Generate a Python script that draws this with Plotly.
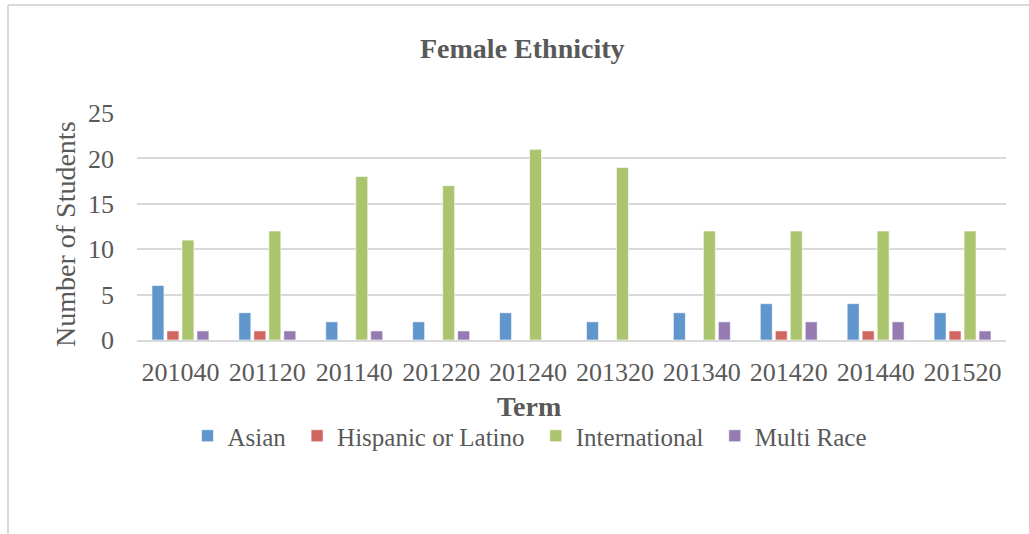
import plotly.graph_objects as go

terms = ["201040", "201120", "201140", "201220", "201240", "201320", "201340", "201420", "201440", "201520"]
asian = [6, 3, 2, 2, 3, 2, 3, 4, 4, 3]
hispanic = [1, 1, 0, 0, 0, 0, 0, 1, 1, 1]
international = [11, 12, 18, 17, 21, 19, 12, 12, 12, 12]
multi_race = [1, 1, 1, 1, 0, 0, 2, 2, 2, 1]

series = [
    ("Asian", asian, "#6096CB"),
    ("Hispanic or Latino", hispanic, "#CF6660"),
    ("International", international, "#ABC56E"),
    ("Multi Race", multi_race, "#957BB2"),
]

FONT = "Liberation Serif"
TXT = "#595959"

W, H = 1029, 534
L, R, T, B = 137, 23, 113, 194
PW, PH = W - L - R, H - T - B

def px(x):
    return (x - L) / PW

def py(y):
    return (H - B - y) / PH

fig = go.Figure()
for i, (name, vals, color) in enumerate(series):
    label = name if i == len(series) - 1 else name + "&nbsp;"
    fig.add_trace(go.Bar(
        x=terms, y=vals, name=label,
        marker=dict(color=color, line=dict(color="rgba(255,255,255,0.6)", width=1)),
    ))

fig.update_layout(
    width=W, height=H,
    margin=dict(l=L, r=R, t=T, b=B),
    paper_bgcolor="white", plot_bgcolor="white",
    barmode="group", bargap=0.31, bargroupgap=0.2,
    font=dict(family=FONT, color=TXT, size=24),
    showlegend=True,
    legend=dict(orientation="h", x=px(530), y=py(436), xanchor="center", yanchor="middle",
                font=dict(family=FONT, size=25, color=TXT), itemwidth=30,
                bgcolor="rgba(0,0,0,0)"),
    xaxis=dict(type="category", showgrid=False, showline=True, linecolor="#D9D9D9", linewidth=2,
               ticks="", tickfont=dict(family=FONT, size=26, color=TXT), ticklabelstandoff=8),
    yaxis=dict(range=[0, 25], dtick=5, showgrid=True, gridcolor="#D9D9D9", gridwidth=2,
               zeroline=False, showline=False, ticks="", tickfont=dict(family=FONT, size=26, color=TXT),
               ticklabelstandoff=22),
    annotations=[
        dict(text="<b>Female Ethnicity</b>", xref="paper", yref="paper", x=px(522), y=py(48),
             xanchor="center", yanchor="middle", showarrow=False,
             font=dict(family=FONT, size=28, color=TXT)),
        dict(text="<b>Term</b>", xref="paper", yref="paper", x=px(529), y=py(406),
             xanchor="center", yanchor="middle", showarrow=False,
             font=dict(family=FONT, size=28, color=TXT)),
        dict(text="Number of Students", xref="paper", yref="paper", x=px(65), y=py(234),
             xanchor="center", yanchor="middle", textangle=-90, showarrow=False,
             font=dict(family=FONT, size=28, color=TXT)),
    ],
    shapes=[
        dict(type="line", xref="paper", yref="paper", x0=px(8), x1=px(1035), y0=py(5), y1=py(5),
             line=dict(color="#D9D9D9", width=2)),
        dict(type="line", xref="paper", yref="paper", x0=px(8), x1=px(8), y0=py(5), y1=py(540),
             line=dict(color="#D9D9D9", width=2)),
    ],
)

fig.write_html("out.html")
